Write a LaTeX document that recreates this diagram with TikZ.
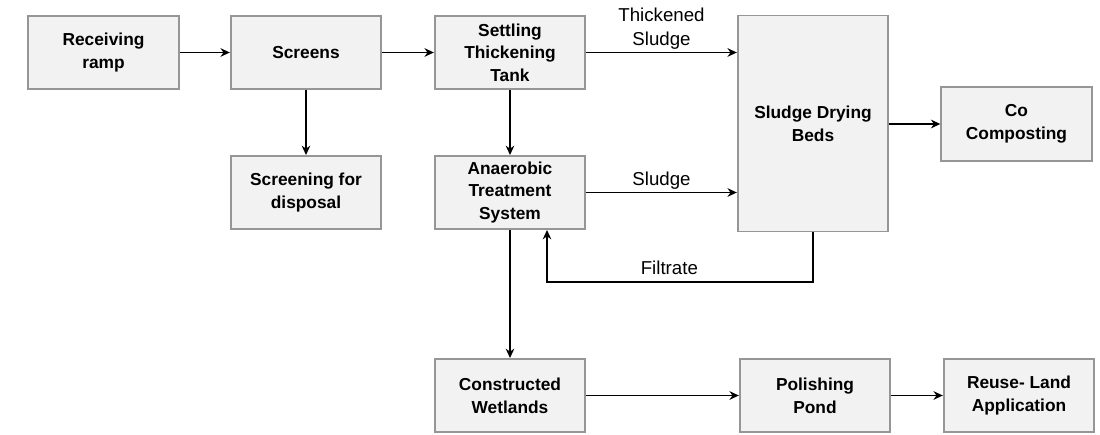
\documentclass[tikz,border=0pt]{standalone}
\usepackage{fontspec}
\setmainfont{Liberation Sans}
\usetikzlibrary{positioning,arrows.meta,calc}
\definecolor{boxgray}{RGB}{242,242,242}
\definecolor{edgegray}{RGB}{150,150,150}

\begin{document}
\begin{tikzpicture}[
  x=0.75pt,y=-0.75pt,
  stage/.style={draw=edgegray,line width=1.3pt,fill=boxgray,inner sep=1pt,align=center,font=\fontsize{13}{17}\selectfont\bfseries,minimum width=113pt,minimum height=55pt},
  flow/.style={->,>={Stealth[length=7pt,width=6.5pt]},line width=0.9pt,black},
  lbl/.style={font=\fontsize{14}{18}\selectfont,align=center,inner sep=2pt}
]
\useasboundingbox (0,0) rectangle (1100,435);

% TOP ROW: intake and thickening
\node[stage] (ramp) at (103.5,52.5) {Receiving\\ramp};
\node[stage] (screens) at (306,52.5) {Screens};
\node[stage] (settle) at (510,52.5) {Settling\\Thickening\\Tank};
\draw[flow] (ramp) -- (screens);
\draw[flow] (screens) -- (settle);

% MIDDLE ROW: screenings and anaerobic stage
\node[stage] (screening) at (306,192.5) {Screening for\\disposal};
\node[stage] (anaer) at (510,192.5) {Anaerobic\\Treatment\\System};
\draw[flow] (screens) -- (screening);
\draw[flow] (settle) -- (anaer);

% SLUDGE LINE: drying beds and composting
\node[stage,minimum height=162pt] (beds) at (813,123.5) {Sludge Drying\\Beds};
\node[stage,minimum height=56pt] (compost) at (1016.5,124) {Co\\Composting};
\draw[flow] (settle.east) -- (settle.east -| beds.west) node[lbl,midway,above] {Thickened\\Sludge};
\draw[flow] (anaer.east) -- (anaer.east -| beds.west) node[lbl,midway,above] {Sludge};
\draw[flow] (beds.east |- compost) -- (compost);
\coordinate (ret) at (547,282);
\draw[flow] (beds.south) |- (ret) node[lbl,pos=0.77,above,yshift=3pt] {Filtrate} -- (anaer.south -| ret);

% BOTTOM ROW: effluent polishing
\node[stage] (wetland) at (510,395.5) {Constructed\\Wetlands};
\node[stage] (pond) at (815,395.5) {Polishing\\Pond};
\node[stage] (reuse) at (1019,395.5) {Reuse- Land\\Application};
\draw[flow] (anaer) -- (wetland);
\draw[flow] (wetland) -- (pond);
\draw[flow] (pond) -- (reuse);
\end{tikzpicture}
\end{document}
